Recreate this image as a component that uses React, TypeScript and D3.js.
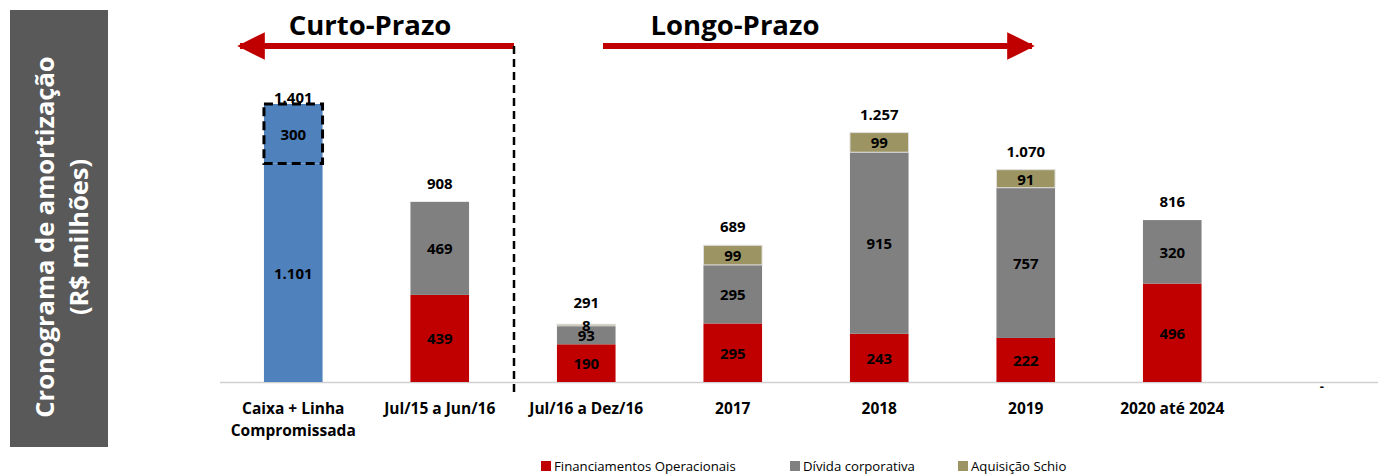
import React from 'react';
import * as d3 from 'd3';

const categories = ['Caixa + Linha\nCompromissada', 'Jul/15 a Jun/16', 'Jul/16 a Dez/16', '2017', '2018', '2019', '2020 até 2024', ''];
const caixa = [1101, 0, 0, 0, 0, 0, 0, 0];
const linhaCompromissada = [300, 0, 0, 0, 0, 0, 0, 0];
const financiamentos = [0, 439, 190, 295, 243, 222, 496, 0];
const dividaCorporativa = [0, 469, 93, 295, 915, 757, 320, 0];
const aquisicaoSchio = [0, 0, 8, 99, 99, 91, 0, 0];
const legendLabels = ['Financiamentos Operacionais', 'Dívida corporativa', 'Aquisição Schio'];

const W = 1378;
const H = 475;
const FONT = '"Open Sans", "Noto Sans", sans-serif';

const fmt = d3.formatLocale({ decimal: ',', thousands: '.', grouping: [3], currency: ['R$', ''] }).format(',');

const App = () => {
  const x = d3.scaleBand<number>()
    .domain(d3.range(categories.length))
    .range([220, 1392])
    .paddingInner(0.6)
    .paddingOuter(0.3);
  const y = d3.scaleLinear().domain([0, 1401]).range([382, 104]);

  const series = [
    { key: 'caixa', values: caixa, color: '#4F81BD', dashed: false },
    { key: 'linha', values: linhaCompromissada, color: '#4F81BD', dashed: true },
    { key: 'fin', values: financiamentos, color: '#C00000', dashed: false },
    { key: 'div', values: dividaCorporativa, color: '#808080', dashed: false },
    { key: 'schio', values: aquisicaoSchio, color: '#9C9463', dashed: false },
  ];
  const rows = categories.map((_, i) => {
    const r: Record<string, number> = {};
    series.forEach(s => { r[s.key] = s.values[i]; });
    return r;
  });
  const stacked = d3.stack<Record<string, number>>().keys(series.map(s => s.key))(rows);
  const totals = rows.map(r => d3.sum(Object.values(r)));
  const bw = x.bandwidth();

  // gap between bar top and total label (caixa label hugs the dashed box)
  const totalGap = (i: number, t: number) => (i === 0 ? 7 : t < 400 ? 22 : 19);

  return (
    <svg width={W} height={H} style={{ position: 'absolute', left: 0, top: 0, background: '#fff' }}>
      <defs>
        <marker id="ah" viewBox="0 0 10 10" refX="9" refY="5" markerWidth="4.6" markerHeight="5.4" markerUnits="strokeWidth" orient="auto">
          <path d="M0,0 L10,5 L0,10 Z" fill="#C00000" />
        </marker>
      </defs>

      {/* left title panel */}
      <rect x={10} y={10} width={98} height={437} fill="#595959" />
      <text transform="translate(44,237) rotate(-90)" textAnchor="middle" dominantBaseline="central"
        fill="#fff" fontFamily={FONT} fontWeight="bold" fontSize={25.5}>Cronograma de amortização</text>
      <text transform="translate(78,237) rotate(-90)" textAnchor="middle" dominantBaseline="central"
        fill="#fff" fontFamily={FONT} fontWeight="bold" fontSize={25.5}>(R$ milhões)</text>

      {/* arrows */}
      <line x1={514} y1={46} x2={240} y2={46} stroke="#C00000" strokeWidth={6} markerEnd="url(#ah)" />
      <line x1={603} y1={46} x2={1032} y2={46} stroke="#C00000" strokeWidth={6} markerEnd="url(#ah)" />
      <text x={370} y={24} textAnchor="middle" dominantBaseline="central" fontFamily={FONT} fontWeight="bold" fontSize={27.5}>Curto-Prazo</text>
      <text x={735} y={24} textAnchor="middle" dominantBaseline="central" fontFamily={FONT} fontWeight="bold" fontSize={27.5}>Longo-Prazo</text>

      {/* axis line */}
      <line x1={220} x2={1378} y1={382.5} y2={382.5} stroke="#D0D0D0" strokeWidth={1.5} />

      {/* bars */}
      {stacked.map((layer, li) => (
        <g key={layer.key}>
          {layer.map((d, i) => {
            const v = d[1] - d[0];
            if (v <= 0) return null;
            const s = series[li];
            const x0 = x(i)!;
            const yTop = y(d[1]);
            const h = y(d[0]) - y(d[1]);
            return (
              <g key={i}>
                <rect x={x0} y={yTop} width={bw} height={h} fill={s.color}
                  stroke={s.key === 'schio' ? '#E0E0E0' : 'none'} strokeWidth={s.key === 'schio' ? 1 : 0} />
                {s.dashed && (
                  <rect x={x0} y={yTop} width={bw} height={h} fill="none" stroke="#000" strokeWidth={3} strokeDasharray="9,5" />
                )}
                <text x={x0 + bw / 2} y={(yTop + y(d[0])) / 2} textAnchor="middle" dominantBaseline="central"
                  fontFamily={FONT} fontWeight="bold" fontSize={15} fill="#000">{fmt(v)}</text>
              </g>
            );
          })}
        </g>
      ))}

      {/* totals */}
      {totals.map((t, i) => (
        t > 0 ? (
          <text key={i} x={x(i)! + bw / 2} y={y(t) - totalGap(i, t)} textAnchor="middle" dominantBaseline="central"
            fontFamily={FONT} fontWeight="bold" fontSize={15}>{fmt(t)}</text>
        ) : (
          <text key={i} x={x(i)! + bw / 2 + 3} y={386} textAnchor="middle" dominantBaseline="central"
            fontFamily={FONT} fontWeight="bold" fontSize={13}>-</text>
        )
      ))}

      {/* divider */}
      <line x1={514} x2={514} y1={46} y2={396} stroke="#000" strokeWidth={2.5} strokeDasharray="8,5" />

      {/* category labels */}
      {categories.map((c, i) => (
        <text key={i} x={x(i)! + bw / 2} y={408} textAnchor="middle" dominantBaseline="central"
          fontFamily={FONT} fontWeight="bold" fontSize={15.5}>
          {c.split('\n').map((line, j) => (
            <tspan key={j} x={x(i)! + bw / 2} dy={j === 0 ? 0 : 22}>{line}</tspan>
          ))}
        </text>
      ))}

      {/* legend */}
      {[
        { label: legendLabels[0], color: '#C00000', x: 541 },
        { label: legendLabels[1], color: '#808080', x: 790 },
        { label: legendLabels[2], color: '#9C9463', x: 958 },
      ].map(l => (
        <g key={l.label}>
          <rect x={l.x} y={461} width={10} height={10} fill={l.color} />
          <text x={l.x + 13} y={466} dominantBaseline="central" fontFamily={FONT} fontSize={13.2} fill="#000">{l.label}</text>
        </g>
      ))}
    </svg>
  );
};

export default App;
